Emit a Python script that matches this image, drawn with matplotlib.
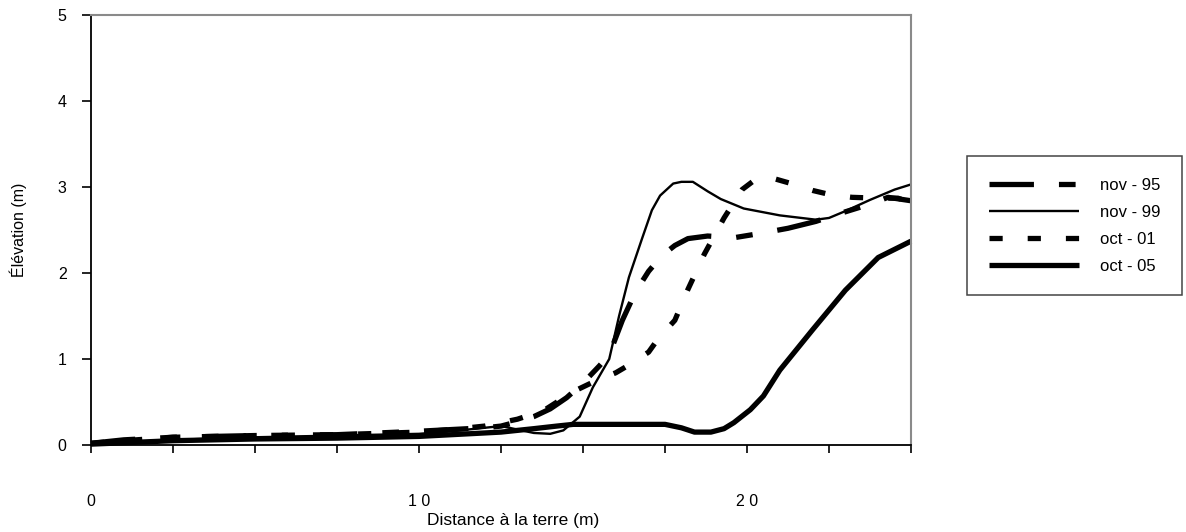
import matplotlib
matplotlib.use("Agg")
import matplotlib.pyplot as plt

plt.rcParams['font.family'] = ['Liberation Sans', 'DejaVu Sans']
plt.rcParams['lines.scale_dashes'] = False

# ---- data ----
x_nov95 = [0, 1, 2.5, 5, 7.5, 10, 11, 12, 12.5, 13, 13.5, 14, 14.5, 15, 15.5, 15.8,
           16.2, 16.6, 17.0, 17.4, 17.8, 18.2, 18.8, 19.6, 20.4, 21.25, 22.1, 22.9,
           23.75, 24.3, 25]
y_nov95 = [0.02, 0.06, 0.09, 0.11, 0.12, 0.16, 0.18, 0.2, 0.22, 0.27, 0.33, 0.42, 0.55,
           0.72, 0.92, 1.05, 1.45, 1.78, 2.02, 2.2, 2.32, 2.4, 2.43, 2.41, 2.46, 2.52,
           2.6, 2.7, 2.8, 2.88, 2.84]

x_nov99 = [0, 2.5, 5, 7.5, 10, 11, 12, 12.5, 13, 13.5, 14, 14.4, 14.9, 15.3, 15.8, 16.1,
           16.4, 16.8, 17.1, 17.35, 17.75, 18.0, 18.35, 18.8, 19.2, 19.9, 21.0, 22.1,
           22.5, 23.0, 23.75, 24.5, 25]
y_nov99 = [0.01, 0.06, 0.09, 0.11, 0.13, 0.16, 0.2, 0.22, 0.18, 0.14, 0.13, 0.17, 0.33,
           0.67, 1.0, 1.5, 1.95, 2.4, 2.73, 2.9, 3.04, 3.06, 3.06, 2.95, 2.86, 2.75, 2.67,
           2.62, 2.64, 2.72, 2.85, 2.97, 3.03]

x_oct01 = [0, 1, 2.5, 5, 7.5, 10, 11, 12, 12.5, 13, 13.8, 14.7, 15.3, 16.0, 16.4, 17.0,
           17.3, 17.8, 18.2, 18.7, 19.3, 19.85, 20.3, 20.8, 21.35, 22.0, 22.55, 23.2,
           24.0, 24.6, 25]
y_oct01 = [0.02, 0.05, 0.09, 0.11, 0.12, 0.15, 0.18, 0.22, 0.26, 0.3, 0.4, 0.62, 0.73,
           0.84, 0.93, 1.08, 1.24, 1.45, 1.81, 2.22, 2.64, 2.97, 3.1, 3.1, 3.04, 2.96,
           2.91, 2.88, 2.87, 2.87, 2.82]

x_oct05 = [0, 2.5, 5, 7.5, 10, 12.5, 13.5, 14.2, 14.7, 15.5, 16.5, 17.5, 18.0, 18.4,
           18.9, 19.3, 19.6, 20.1, 20.5, 21.0, 22.0, 23.0, 24.0, 25]
y_oct05 = [0.01, 0.05, 0.07, 0.08, 0.1, 0.15, 0.19, 0.22, 0.24, 0.24, 0.24, 0.24, 0.2,
           0.15, 0.15, 0.19, 0.26, 0.41, 0.57, 0.87, 1.34, 1.8, 2.18, 2.37]

labels = ["nov - 95", "nov - 99", "oct - 01", "oct - 05"]
x_ticks = [0, 2.5, 5, 7.5, 10, 12.5, 15, 17.5, 20, 22.5, 25]
x_ticklabels = ["0", "", "", "", "1 0", "", "", "", "2 0", "", ""]
y_ticks = [0, 1, 2, 3, 4, 5]

# ---- figure ----
W, H = 1186, 532
fig = plt.figure(figsize=(W / 100, H / 100), dpi=100)
ax = fig.add_axes([91 / W, 1 - 445 / H, 820 / W, 430 / H])

thick = 3.8
thin = 1.7
common = dict(color="black", solid_capstyle="butt", dash_capstyle="butt",
              solid_joinstyle="round", clip_on=False)
ax.plot(x_nov95, y_nov95, lw=thick, linestyle=(0, (32, 18, 12, 18)), label=labels[0], **common)
ax.plot(x_nov99, y_nov99, lw=thin, linestyle="-", label=labels[1], **common)
ax.plot(x_oct01, y_oct01, lw=thick, linestyle=(0, (9.5, 18)), label=labels[2], **common)
ax.plot(x_oct05, y_oct05, lw=thick, linestyle="-", label=labels[3], **common)

ax.set_xlim(0, 25)
ax.set_ylim(0, 5)
ax.set_xticks(x_ticks)
ax.set_xticklabels(x_ticklabels)
ax.set_yticks(y_ticks)
ax.set_yticklabels([str(v) for v in y_ticks])

ax.tick_params(axis="x", direction="out", length=6, width=1.2, pad=29, labelsize=11.5)
ax.tick_params(axis="y", direction="out", length=6.5, width=1.2, pad=11, labelsize=11.5)

for s in ["left", "bottom"]:
    ax.spines[s].set_color("black")
    ax.spines[s].set_linewidth(1.3)
for s in ["top", "right"]:
    ax.spines[s].set_color("#8a8a8a")
    ax.spines[s].set_linewidth(1.5)

ax.set_xlabel("Distance à la terre (m)", fontsize=12.5)
ax.xaxis.label.set_va("center")
ax.xaxis.set_label_coords((513 - 91) / 820, (445 - 521) / 430)
ax.set_ylabel("Élévation (m)", fontsize=11.5)
ax.yaxis.label.set_va("center")
ax.yaxis.set_label_coords((18 - 91) / 820, 0.5)

leg = fig.legend(loc="upper left", bbox_to_anchor=(967 / W, 1 - 156 / H),
                 bbox_transform=fig.transFigure, borderaxespad=0, fontsize=12,
                 handlelength=5.4, handletextpad=1.25, borderpad=1.3,
                 labelspacing=0.72, fancybox=False, frameon=True)
fr = leg.get_frame()
fr.set_edgecolor("#444444")
fr.set_linewidth(1.1)
fr.set_facecolor("white")
fr.set_alpha(1)

fig.savefig("out.png", dpi=100)
